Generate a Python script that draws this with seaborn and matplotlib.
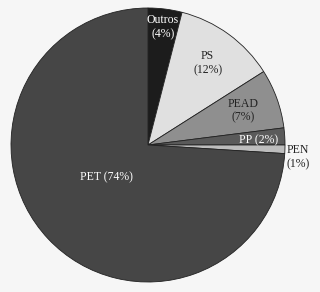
import numpy as np
import matplotlib
matplotlib.use("Agg")
import matplotlib.pyplot as plt
import seaborn as sns

# Data
categories = ["Outros", "PS", "PEAD", "PP", "PEN", "PET"]
values = [4, 12, 7, 2, 1, 74]
labels = ["Outros\n(4%)", "PS\n(12%)", "PEAD\n(7%)", "PP (2%)", "PEN\n(1%)", "PET (74%)"]

# Styling
colors = ["#1c1c1c", "#e0e0e0", "#8f8f8f", "#5a5a5a", "#bdbdbd", "#464646"]
text_colors = ["white", "#222222", "#222222", "white", "#222222", "white"]
label_radius = [0.87, 0.74, 0.74, 0.81, 1.10, 0.385]
label_angle_shift = [0, 0, 0, -1.0, -3.0, -5.0]

sns.set_style("white")
plt.rcParams["font.family"] = ["Liberation Serif", "DejaVu Serif"]

bg = "#f6f6f6"
fig = plt.figure(figsize=(3.2, 2.92), dpi=100, facecolor=bg)
ax = fig.add_axes([11 / 320, 10 / 292, 274 / 320, 274 / 292])
ax.set_facecolor(bg)

wedges, _ = ax.pie(values, colors=colors, startangle=90, counterclock=False,
                   radius=1.0,
                   wedgeprops=dict(edgecolor="#222222", linewidth=0.6))

for w, lab, tc, r, sh in zip(wedges, labels, text_colors, label_radius, label_angle_shift):
    ang = np.deg2rad((w.theta1 + w.theta2) / 2 + sh)
    ax.text(r * np.cos(ang), r * np.sin(ang), lab, ha="center", va="center",
            color=tc, fontsize=8.5, linespacing=1.25)

ax.set_xlim(-1, 1)
ax.set_ylim(-1, 1)
ax.set_aspect("equal")
ax.axis("off")

fig.savefig("out.png", dpi=100, facecolor=bg)
